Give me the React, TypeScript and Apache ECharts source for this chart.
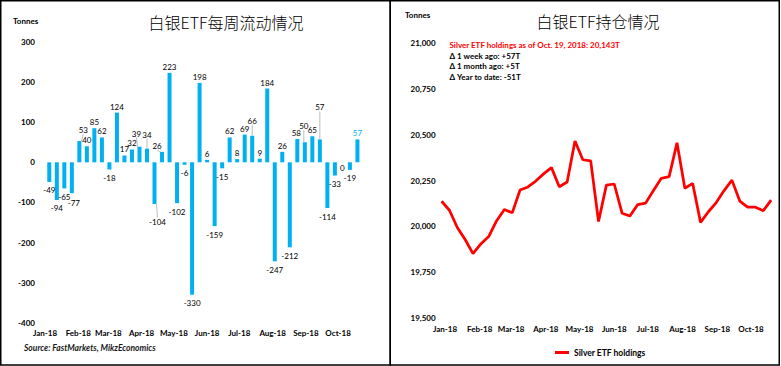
import React, { useEffect, useRef } from 'react';
import * as echarts from 'echarts';

// Weekly flow dates (Fridays)
const flowDates = [
  '2018-01-05', '2018-01-12', '2018-01-19', '2018-01-26',
  '2018-02-02', '2018-02-09', '2018-02-16', '2018-02-23',
  '2018-03-02', '2018-03-09', '2018-03-16', '2018-03-23', '2018-03-30',
  '2018-04-06', '2018-04-13', '2018-04-20', '2018-04-27',
  '2018-05-04', '2018-05-11', '2018-05-18', '2018-05-25',
  '2018-06-01', '2018-06-08', '2018-06-15', '2018-06-22', '2018-06-29',
  '2018-07-06', '2018-07-13', '2018-07-20', '2018-07-27',
  '2018-08-03', '2018-08-10', '2018-08-17', '2018-08-24', '2018-08-31',
  '2018-09-07', '2018-09-14', '2018-09-21', '2018-09-28',
  '2018-10-05', '2018-10-12', '2018-10-19',
];
const weeklyFlows = [
  -49, -94, -65, -77, 53, 40, 85, 62, -18, 124, 17, 32, 39, 34, -104, 26,
  223, -102, -6, -330, 198, 6, -159, -15, 62, 8, 69, 66, 9, 184, -247, 26,
  -212, 58, 50, 65, 57, -114, -33, 0, -19, 57,
];

const holdingDates = [
  '2017-12-29',
  '2018-01-05', '2018-01-12', '2018-01-19', '2018-01-26',
  '2018-02-02', '2018-02-09', '2018-02-16', '2018-02-23',
  '2018-03-02', '2018-03-09', '2018-03-16', '2018-03-23', '2018-03-30',
  '2018-04-06', '2018-04-13', '2018-04-20', '2018-04-27',
  '2018-05-04', '2018-05-11', '2018-05-18', '2018-05-25',
  '2018-06-01', '2018-06-08', '2018-06-15', '2018-06-22', '2018-06-29',
  '2018-07-06', '2018-07-13', '2018-07-20', '2018-07-27',
  '2018-08-03', '2018-08-10', '2018-08-17', '2018-08-24', '2018-08-31',
  '2018-09-07', '2018-09-14', '2018-09-21', '2018-09-28',
  '2018-10-05', '2018-10-12', '2018-10-19',
];
const holdings = [
  20137, 20088, 19994, 19929, 19852, 19905, 19945, 20030, 20092, 20074,
  20198, 20215, 20247, 20286, 20320, 20216, 20242, 20465, 20363, 20357,
  20027, 20225, 20231, 20072, 20057, 20119, 20127, 20196, 20262, 20271,
  20455, 20208, 20234, 20022, 20080, 20130, 20195, 20252, 20138, 20105,
  20105, 20086, 20143,
];

const leftTitle = '白银ETF每周流动情况';
const rightTitle = '白银ETF持仓情况';
const unitLabel = 'Tonnes';
const sourceText = 'Source: FastMarkets, MikzEconomics';
const infoLines = [
  'Silver ETF holdings as of Oct. 19, 2018: 20,143T',
  'Δ 1 week ago: +57T',
  'Δ 1 month ago: +5T',
  'Δ Year to date: -51T',
];
const seriesName = 'Silver ETF holdings';
const MONTHS = ['Jan', 'Feb', 'Mar', 'Apr', 'May', 'Jun', 'Jul', 'Aug', 'Sep', 'Oct', 'Nov', 'Dec'];

// label displacement for crowded labels (dx, dy)
const labelShift: Record<number, [number, number]> = {
  3: [2, 1],
  4: [4, -5],
  12: [-3, -7],
  13: [0, -8],
  14: [3, 9],
  15: [-5, 0],
  27: [0, -9],
  33: [-1, 0],
  34: [-1, -10],
  36: [0, -26],
};
const noLeader = [3, 33];

const toTime = (s: string) => {
  const [y, m, d] = s.split('-').map(Number);
  return new Date(y, m - 1, d).getTime();
};

const FONT = 'Lato, "Liberation Sans", Arial, sans-serif';
const CJK = '"Noto Sans CJK SC", "Noto Sans", sans-serif';
const BLUE = '#00B0F0';
const DAY = 86400000;

const monthFmt = (v: number) => {
  const d = new Date(v);
  if (d.getDate() !== 1) return '';
  return `${MONTHS[d.getMonth()]}-${String(d.getFullYear()).slice(2)}`;
};

export default function App() {
  const ref = useRef<HTMLDivElement>(null);
  useEffect(() => {
    if (!ref.current) return;
    const chart = echarts.init(ref.current, undefined, { renderer: 'svg' });
    const barData = weeklyFlows.map((v, i) => {
      const item: any = {
        value: [toTime(flowDates[i]), v],
        label: { distance: v >= 0 ? 2 : 4.5 },
      };
      if (labelShift[i] && noLeader.indexOf(i) < 0) {
        item.labelLine = { show: true, lineStyle: { color: '#A6A6A6', width: 0.75 } };
      }
      if (i === weeklyFlows.length - 1) {
        item.label.color = BLUE;
      }
      return item;
    });
    const lineData = holdings.map((v, i) => [toTime(holdingDates[i]), v]);

    const option: any = {
      animation: false,
      backgroundColor: '#ffffff',
      grid: [
        { left: 43, right: 416.2, top: 42, bottom: 43.3 },
        { left: 441.6, right: 7.6, top: 42.7, bottom: 47.7 },
      ],
      xAxis: [
        {
          type: 'time',
          gridIndex: 0,
          min: toTime('2018-01-01'),
          max: toTime('2018-10-24'),
          splitNumber: 10,
          minInterval: 28 * DAY,
          maxInterval: 31 * DAY,
          axisLine: { show: false, onZero: false },
          axisTick: { show: false },
          splitLine: { show: false },
          axisLabel: {
            formatter: monthFmt,
            fontFamily: FONT,
            fontSize: 8,
            fontWeight: 'bold',
            color: '#000',
            margin: 6,
            showMinLabel: true,
            showMaxLabel: false,
            hideOverlap: false,
          },
        },
        {
          type: 'time',
          gridIndex: 1,
          min: toTime('2017-12-29'),
          max: toTime('2018-10-21'),
          splitNumber: 10,
          minInterval: 28 * DAY,
          maxInterval: 31 * DAY,
          axisLine: { show: false, onZero: false },
          axisTick: { show: false },
          splitLine: { show: false },
          axisLabel: {
            formatter: monthFmt,
            fontFamily: FONT,
            fontSize: 8,
            fontWeight: 'bold',
            color: '#000',
            margin: 7,
            hideOverlap: false,
          },
        },
      ],
      yAxis: [
        {
          type: 'value',
          gridIndex: 0,
          min: -400,
          max: 300,
          interval: 100,
          axisLine: { show: false },
          axisTick: { show: false },
          splitLine: { show: false },
          axisLabel: {
            fontFamily: FONT,
            fontSize: 8,
            fontWeight: 'bold',
            color: '#000',
            margin: 8,
          },
        },
        {
          type: 'value',
          gridIndex: 1,
          min: 19500,
          max: 21000,
          interval: 250,
          axisLine: { show: false },
          axisTick: { show: false },
          splitLine: { show: false },
          axisLabel: {
            fontFamily: FONT,
            fontSize: 8,
            fontWeight: 'bold',
            color: '#000',
            margin: 6,
            formatter: (v: number) => v.toLocaleString('en-US'),
          },
        },
      ],
      legend: {
        data: [seriesName],
        left: 550,
        top: 343,
        icon: 'rect',
        itemWidth: 14,
        itemHeight: 3,
        textStyle: { fontFamily: FONT, fontSize: 8.5, fontWeight: 'bold', color: '#000' },
      },
      series: [
        {
          type: 'bar',
          name: 'Weekly flows',
          xAxisIndex: 0,
          yAxisIndex: 0,
          barWidth: 4,
          itemStyle: { color: BLUE },
          label: {
            show: true,
            position: 'outside',
            fontFamily: FONT,
            fontSize: 8,
            color: '#000',
            formatter: (p: any) => String(p.value[1]),
          },
          labelLayout: (p: any) => {
            const s = labelShift[p.dataIndex];
            return s ? { dx: s[0], dy: s[1] } : {};
          },
          data: barData,
        },
        {
          type: 'line',
          name: seriesName,
          xAxisIndex: 1,
          yAxisIndex: 1,
          symbol: 'none',
          lineStyle: { color: '#FF0000', width: 2.75 },
          itemStyle: { color: '#FF0000' },
          data: lineData,
        },
      ],
      graphic: [
        {
          type: 'rect',
          shape: { x: 0.75, y: 0.75, width: 389.5, height: 364.25 },
          style: { fill: 'none', stroke: '#000', lineWidth: 1.5 },
          silent: true,
        },
        {
          type: 'rect',
          shape: { x: 390.25, y: 0.75, width: 389, height: 364.25 },
          style: { fill: 'none', stroke: '#000', lineWidth: 1.5 },
          silent: true,
        },
        {
          type: 'text',
          x: 226,
          y: 22,
          style: {
            text: leftTitle,
            font: `300 16px ${CJK}`,
            fill: '#000',
            align: 'center',
            verticalAlign: 'middle',
          },
        },
        {
          type: 'text',
          x: 598,
          y: 21,
          style: {
            text: rightTitle,
            font: `300 16px ${CJK}`,
            fill: '#000',
            align: 'center',
            verticalAlign: 'middle',
          },
        },
        {
          type: 'text',
          x: 13,
          y: 21,
          style: { text: unitLabel, font: `bold 8px ${FONT}`, fill: '#000', verticalAlign: 'middle' },
        },
        {
          type: 'text',
          x: 405,
          y: 15,
          style: { text: unitLabel, font: `bold 8px ${FONT}`, fill: '#000', verticalAlign: 'middle' },
        },
        {
          type: 'text',
          x: 24,
          y: 348,
          style: { text: sourceText, font: `italic bold 8.5px ${FONT}`, fill: '#1a1a1a', verticalAlign: 'middle' },
        },
        ...infoLines.map((t, i) => ({
          type: 'text',
          x: 449.5,
          y: [45, 55.7, 66, 76.7][i],
          style: {
            text: t,
            font: `bold 8px ${FONT}`,
            fill: i === 0 ? '#FF0000' : '#000',
            verticalAlign: 'middle',
          },
        })),
      ],
    };
    chart.setOption(option);
    return () => chart.dispose();
  }, []);
  return (
    <div
      ref={ref}
      style={{ position: 'fixed', left: 0, top: 0, width: 781, height: 366, background: '#fff' }}
    />
  );
}
